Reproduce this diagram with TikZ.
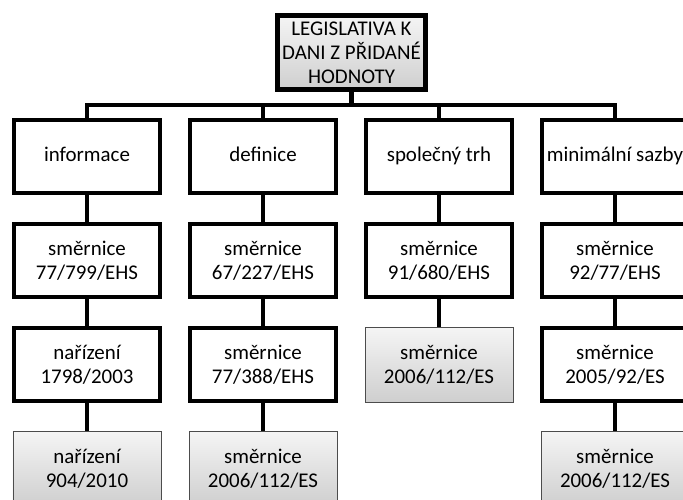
\documentclass[tikz,border=0pt]{standalone}
\usepackage{fontspec}
\setmainfont{Carlito}
\begin{document}
\begin{tikzpicture}[x=1bp,y=-1bp,
  box/.style={draw=black, line width=4.6bp, fill=white, minimum width=146bp, minimum height=73bp, inner sep=0pt, align=center, font=\fontsize{21}{24}\selectfont},
  graybox/.style={draw=black!70, line width=0.8bp, top color=gray!8, bottom color=gray!38, minimum width=148bp, minimum height=75bp, inner sep=0pt, align=center, font=\fontsize{21}{24}\selectfont},
  topbox/.style={box, top color=gray!8, bottom color=gray!38, minimum width=148bp, minimum height=74bp},
  conn/.style={line width=4.6bp, line join=miter}]
\useasboundingbox (0,0) rectangle (683,500);
\clip (0,0) rectangle (683,500);
\fill[white] (0,0) rectangle (683,500);
\coordinate (bar) at (0,105);
\node[topbox] (top) at (351.5,52.5) {LEGISLATIVA K\\DANI Z PŘIDANÉ\\HODNOTY};
% row 1
\node[box] (c1) at (87,156.5) {\strut informace};
\node[box] (c2) at (263,156.5) {\strut definice};
\node[box] (c3) at (439,156.5) {\strut společný trh};
\node[box] (c4) at (615,156.5) {\strut minimální sazby};
% row 2
\node[box] (r21) at (87,260.5) {směrnice\\77/799/EHS};
\node[box] (r22) at (263,260.5) {směrnice\\67/227/EHS};
\node[box] (r23) at (439,260.5) {směrnice\\91/680/EHS};
\node[box] (r24) at (615,260.5) {směrnice\\92/77/EHS};
% row 3
\node[box] (r31) at (87,364.5) {nařízení\\1798/2003};
\node[box] (r32) at (263,364.5) {směrnice\\77/388/EHS};
\node[graybox] (r33) at (439,364.5) {směrnice\\2006/112/ES};
\node[box] (r34) at (615,364.5) {směrnice\\2005/92/ES};
% row 4
\node[graybox] (r41) at (87,468.5) {nařízení\\904/2010};
\node[graybox] (r42) at (263,468.5) {směrnice\\2006/112/ES};
\node[graybox] (r44) at (615,468.5) {směrnice\\2006/112/ES};
% connectors
\draw[conn] (top.south) -- (top.south |- bar);
\draw[conn] (c1.north) |- (bar -| c4.north) -- (c4.north);
\draw[conn] (c2.north) -- (c2.north |- bar);
\draw[conn] (c3.north) -- (c3.north |- bar);
\foreach \a/\b in {c1/r21,r21/r31,r31/r41,c2/r22,r22/r32,r32/r42,c3/r23,r23/r33,c4/r24,r24/r34,r34/r44}
  \draw[conn] (\a.south) -- (\b.north);
\end{tikzpicture}
\end{document}
